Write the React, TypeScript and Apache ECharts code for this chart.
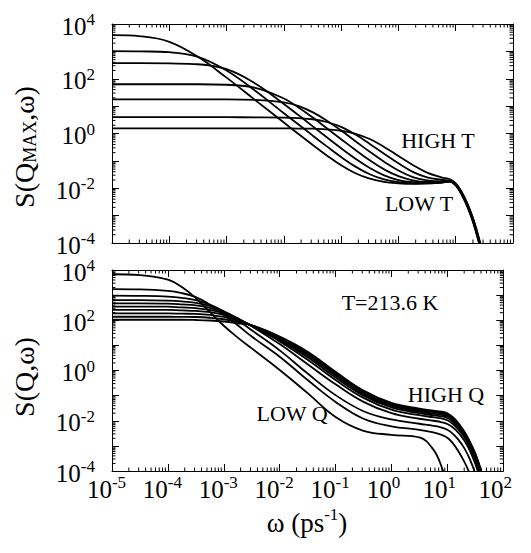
import React, { useEffect, useRef } from "react";
import * as echarts from "echarts";

// ---------- data (log10 values) ----------
// top panel: S(Q_MAX, ω), seven temperatures (LOW T -> HIGH T)
const logOmegaTop = [-5, -4.5, -4, -3.5, -3, -2.5, -2, -1.75, -1.5, -1.25, -1, -0.75, -0.5, -0.25, 0, 0.25, 0.5, 0.75, 0.9, 1.0, 1.1, 1.2, 1.3, 1.4, 1.5];
const topT1 = [3.59, 3.55, 3.35, 2.80, 2.04, 1.22, 0.40, -0.01, -0.41, -0.80, -1.16, -1.45, -1.65, -1.77, -1.82, -1.84, -1.82, -1.79, -1.76, -1.90, -2.22, -2.66, -3.22, -3.95, -4.8];
const topT2 = [3.01, 3.00, 2.97, 2.80, 2.30, 1.56, 0.74, 0.34, -0.07, -0.47, -0.86, -1.21, -1.49, -1.68, -1.78, -1.82, -1.82, -1.79, -1.76, -1.89, -2.20, -2.64, -3.20, -3.92, -4.77];
const topT3 = [2.57, 2.57, 2.56, 2.53, 2.35, 1.83, 1.08, 0.68, 0.27, -0.14, -0.54, -0.92, -1.26, -1.53, -1.70, -1.78, -1.80, -1.78, -1.75, -1.88, -2.19, -2.62, -3.17, -3.89, -4.73];
const topT4 = [1.80, 1.80, 1.80, 1.80, 1.78, 1.67, 1.28, 0.96, 0.59, 0.19, -0.21, -0.60, -0.98, -1.31, -1.56, -1.71, -1.77, -1.77, -1.75, -1.86, -2.17, -2.60, -3.15, -3.87, -4.70];
const topT5 = [1.25, 1.25, 1.25, 1.25, 1.25, 1.23, 1.14, 1.01, 0.78, 0.47, 0.11, -0.28, -0.67, -1.03, -1.35, -1.59, -1.71, -1.75, -1.74, -1.85, -2.15, -2.58, -3.13, -3.84, -4.67];
const topT6 = [0.595, 0.595, 0.595, 0.595, 0.595, 0.59, 0.58, 0.56, 0.52, 0.42, 0.24, -0.04, -0.38, -0.74, -1.09, -1.40, -1.60, -1.69, -1.72, -1.84, -2.14, -2.56, -3.10, -3.81, -4.63];
const topT7 = [0.19, 0.19, 0.19, 0.19, 0.19, 0.19, 0.19, 0.18, 0.18, 0.15, 0.10, -0.01, -0.20, -0.49, -0.82, -1.15, -1.43, -1.60, -1.67, -1.82, -2.12, -2.54, -3.08, -3.78, -4.6];
const topCurves = [topT1, topT2, topT3, topT4, topT5, topT6, topT7];

// bottom panel: S(Q, ω) at T = 213.6 K, ten wave vectors (LOW Q -> HIGH Q)
const logOmegaBot = [-5, -4.5, -4, -3.75, -3.5, -3.25, -3, -2.75, -2.5, -2, -1.5, -1, -0.5, 0, 0.5, 0.75, 0.9, 1.0, 1.1, 1.2, 1.3, 1.4, 1.5, 1.6, 1.7];
const botQ1 = [3.83, 3.80, 3.62, 3.32, 2.88, 2.33, 1.78, 1.31, 0.88, 0.02, -0.90, -1.85, -2.40, -2.56, -2.66, -3.15, -3.85, -4.6, null, null, null, null, null, null, null];
const botQ2 = [3.24, 3.23, 3.17, 3.08, 2.92, 2.62, 2.22, 1.80, 1.35, 0.55, -0.38, -1.25, -1.92, -2.22, -2.36, -2.46, -2.56, -2.68, -2.90, -3.22, -3.62, -4.1, -4.7, null, null];
const botQ3 = [2.98, 2.97, 2.94, 2.89, 2.80, 2.62, 2.35, 2.0, 1.60, 0.80, -0.12, -0.98, -1.62, -1.95, -2.12, -2.20, -2.27, -2.36, -2.52, -2.76, -3.08, -3.52, -4.1, -4.8, null];
const botQ4 = [2.80, 2.80, 2.78, 2.75, 2.69, 2.57, 2.36, 2.08, 1.76, 1.05, 0.25, -0.55, -1.25, -1.70, -1.92, -2.00, -2.06, -2.13, -2.27, -2.48, -2.78, -3.18, -3.72, -4.4, null];
const botQ5 = [2.67, 2.67, 2.66, 2.63, 2.59, 2.49, 2.32, 2.07, 1.77, 1.16, 0.43, -0.38, -1.09, -1.56, -1.78, -1.86, -1.91, -1.98, -2.13, -2.35, -2.65, -3.05, -3.57, -4.24, -5.0];
const botQ6 = [2.54, 2.54, 2.54, 2.51, 2.48, 2.41, 2.27, 2.05, 1.78, 1.22, 0.53, -0.28, -1.00, -1.47, -1.70, -1.78, -1.83, -1.89, -2.05, -2.27, -2.58, -2.98, -3.49, -4.15, -4.95];
const botQ7 = [2.41, 2.41, 2.41, 2.39, 2.37, 2.32, 2.21, 2.02, 1.79, 1.26, 0.60, -0.20, -0.94, -1.41, -1.64, -1.72, -1.77, -1.83, -1.98, -2.21, -2.53, -2.93, -3.43, -4.09, -4.9];
const botQ8 = [2.27, 2.27, 2.27, 2.26, 2.25, 2.21, 2.13, 1.98, 1.80, 1.30, 0.66, -0.14, -0.88, -1.36, -1.59, -1.67, -1.71, -1.78, -1.93, -2.17, -2.48, -2.88, -3.37, -4.03, -4.88];
const botQ9 = [2.14, 2.14, 2.14, 2.135, 2.13, 2.10, 2.04, 1.93, 1.80, 1.33, 0.71, -0.09, -0.83, -1.32, -1.55, -1.63, -1.67, -1.73, -1.89, -2.13, -2.45, -2.85, -3.33, -3.98, -4.83];
const botQ10 = [2.02, 2.02, 2.02, 2.02, 2.01, 1.99, 1.95, 1.88, 1.80, 1.35, 0.75, -0.05, -0.80, -1.29, -1.52, -1.60, -1.64, -1.70, -1.86, -2.10, -2.42, -2.82, -3.30, -3.95, -4.8];
const botCurves = [botQ1, botQ2, botQ3, botQ4, botQ5, botQ6, botQ7, botQ8, botQ9, botQ10];

// axis decades
const xDecades = [-5, -4, -3, -2, -1, 0, 1];
const yDecades = [-4, -3, -2, -1, 0, 1, 2, 3];
const minorSteps = [2, 3, 4, 5, 6, 7, 8, 9];

const FONT = "'Liberation Serif', 'DejaVu Serif', serif";

function toPairs(logW: number[], logS: (number | null)[]) {
  const out: number[][] = [];
  logW.forEach((w, i) => {
    const s = logS[i];
    if (s !== null && s !== undefined) out.push([Math.pow(10, w), Math.pow(10, s)]);
  });
  return out;
}

function lineSeries(data: number[][], xi: number, yi: number) {
  return {
    type: "line",
    xAxisIndex: xi,
    yAxisIndex: yi,
    data,
    showSymbol: false,
    symbol: "none",
    smooth: 0.4,
    lineStyle: { color: "#000", width: 1.8 },
    silent: true,
    z: 3,
  };
}

const minorXVals = xDecades.flatMap((d) => minorSteps.map((m) => m * Math.pow(10, d)));
const minorYVals = yDecades.flatMap((d) => minorSteps.map((m) => m * Math.pow(10, d)));

function minorTickSeries(xi: number, yi: number) {
  const st = { stroke: "#000", lineWidth: 1 };
  const L = 3.5;
  return [
    {
      type: "custom",
      xAxisIndex: xi,
      yAxisIndex: yi,
      silent: true,
      data: minorXVals.map((v) => [v, 1]),
      renderItem: (params: any, api: any) => {
        const cs = params.coordSys;
        const px = api.coord([api.value(0), 1])[0];
        return {
          type: "group",
          children: [
            { type: "line", shape: { x1: px, y1: cs.y + cs.height, x2: px, y2: cs.y + cs.height - L }, style: st },
            { type: "line", shape: { x1: px, y1: cs.y, x2: px, y2: cs.y + L }, style: st },
          ],
        };
      },
    },
    {
      type: "custom",
      xAxisIndex: xi,
      yAxisIndex: yi,
      silent: true,
      data: minorYVals.map((v) => [1e-3, v]),
      renderItem: (params: any, api: any) => {
        const cs = params.coordSys;
        const py = api.coord([1e-3, api.value(1)])[1];
        return {
          type: "group",
          children: [
            { type: "line", shape: { x1: cs.x, y1: py, x2: cs.x + L, y2: py }, style: st },
            { type: "line", shape: { x1: cs.x + cs.width, y1: py, x2: cs.x + cs.width - L, y2: py }, style: st },
          ],
        };
      },
    },
  ];
}

const axisLine = { show: true, lineStyle: { color: "#000", width: 1 } };
const axisTick = { show: true, inside: true, length: 7, lineStyle: { color: "#000", width: 1 } };

function xAxisDef(grid: number, pos: "bottom" | "top", labels: boolean) {
  return {
    type: "log",
    logBase: 10,
    gridIndex: grid,
    position: pos,
    min: 1e-5,
    max: 1e2,
    splitNumber: 7,
    axisLine,
    axisTick,
    splitLine: { show: false },
    axisLabel: labels
      ? {
          show: true,
          margin: 3,
          formatter: (v: number) => {
            const e = Math.round(Math.log10(v));
            return e < 0 ? `{b|10}{sn|${e}}` : `{b|10}{sp|${e}}`;
          },
          rich: {
            b: { fontSize: 25, fontFamily: FONT, color: "#000", lineHeight: 26, padding: [4, 0, 0, 0] },
            sp: { fontSize: 17, fontFamily: FONT, color: "#000", lineHeight: 17, verticalAlign: "top", padding: [0, 16, 0, 0] },
            sn: { fontSize: 17, fontFamily: FONT, color: "#000", lineHeight: 17, verticalAlign: "top", padding: [0, 11, 0, 0] },
          },
        }
      : { show: false },
  };
}

function yAxisDef(grid: number, pos: "left" | "right", labels: boolean) {
  return {
    type: "log",
    logBase: 10,
    gridIndex: grid,
    position: pos,
    min: 1e-4,
    max: 1e4,
    splitNumber: 8,
    axisLine,
    axisTick,
    splitLine: { show: false },
    axisLabel: labels
      ? {
          show: true,
          margin: 17,
          formatter: (v: number) => {
            const e = Math.round(Math.log10(v));
            return e % 2 === 0 ? `{b|10}{s|${e === 0 ? 0 : e}}` : "";
          },
          rich: {
            b: { fontSize: 25, fontFamily: FONT, color: "#000", lineHeight: 26, padding: [4, 0, 0, 0] },
            s: { fontSize: 17, fontFamily: FONT, color: "#000", lineHeight: 17, verticalAlign: "top" },
          },
        }
      : { show: false },
  };
}

function textEl(text: string, x: number, y: number, size = 22) {
  return {
    type: "text",
    x,
    y,
    silent: true,
    style: {
      text,
      fill: "#000",
      fontSize: size,
      fontFamily: FONT,
      align: "center",
      verticalAlign: "middle",
      textAlign: "center",
      textVerticalAlign: "middle",
    },
  };
}

export default function App() {
  const ref = useRef<HTMLDivElement>(null);
  useEffect(() => {
    if (!ref.current) return;
    const chart = echarts.init(ref.current, null, { renderer: "svg" });
    const series: any[] = [];
    topCurves.forEach((c) => series.push(lineSeries(toPairs(logOmegaTop, c), 0, 0)));
    botCurves.forEach((c) => series.push(lineSeries(toPairs(logOmegaBot, c), 2, 2)));
    series.push(...minorTickSeries(0, 0));
    series.push(...minorTickSeries(2, 2));

    const option: any = {
      animation: false,
      backgroundColor: "#fff",
      grid: [
        { left: 112, top: 24, width: 401, height: 219 },
        { left: 112, top: 270, width: 405, height: 201 },
      ],
      xAxis: [xAxisDef(0, "bottom", false), xAxisDef(0, "top", false), xAxisDef(1, "bottom", true), xAxisDef(1, "top", false)],
      yAxis: [yAxisDef(0, "left", true), yAxisDef(0, "right", false), yAxisDef(1, "left", true), yAxisDef(1, "right", false)],
      series,
      graphic: [
        {
          type: "text",
          x: 24,
          y: 147,
          rotation: Math.PI / 2,
          silent: true,
          style: {
            text: "{n|S(Q}{sub|MAX}{n|,ω)}",
            fill: "#000",
            align: "center",
            verticalAlign: "middle",
            textAlign: "center",
            textVerticalAlign: "middle",
            rich: {
              n: { fontSize: 28, fontFamily: FONT, fill: "#000", lineHeight: 30 },
              sub: { fontSize: 18, fontFamily: FONT, fill: "#000", lineHeight: 17, verticalAlign: "bottom" },
            },
          },
        },
        {
          type: "text",
          x: 24,
          y: 377,
          rotation: Math.PI / 2,
          silent: true,
          style: {
            text: "S(Q,ω)",
            fill: "#000",
            fontSize: 28,
            fontFamily: FONT,
            align: "center",
            verticalAlign: "middle",
            textAlign: "center",
            textVerticalAlign: "middle",
          },
        },
        {
          type: "text",
          x: 307,
          y: 520,
          silent: true,
          style: {
            text: "{n|ω (ps}{sup|-1}{n|)}",
            fill: "#000",
            align: "center",
            verticalAlign: "middle",
            textAlign: "center",
            textVerticalAlign: "middle",
            rich: {
              n: { fontSize: 27, fontFamily: FONT, fill: "#000", lineHeight: 28, padding: [5, 0, 0, 0] },
              sup: { fontSize: 17, fontFamily: FONT, fill: "#000", lineHeight: 16, verticalAlign: "top" },
            },
          },
        },
        textEl("HIGH T", 438, 140),
        textEl("LOW T", 419, 203),
        textEl("T=213.6 K", 390, 302),
        textEl("HIGH Q", 446, 394),
        textEl("LOW Q", 292, 413),
      ],
    };
    chart.setOption(option);
    return () => chart.dispose();
  }, []);
  return <div ref={ref} style={{ position: "fixed", left: 0, top: 0, width: 531, height: 553, background: "#fff" }} />;
}
